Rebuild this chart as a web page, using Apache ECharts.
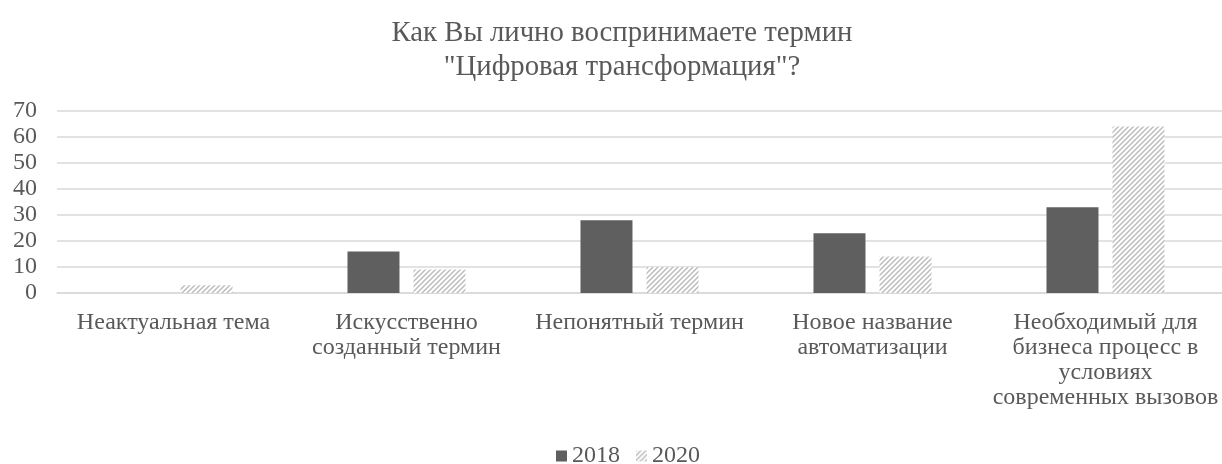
<!DOCTYPE html>
<html>
<head>
<meta charset="utf-8">
<script src="https://cdn.jsdelivr.net/npm/echarts@6/dist/echarts.min.js"></script>
<style>
  html, body { margin: 0; padding: 0; background: #fff; }
  #chart { width: 1222px; height: 464px; }
</style>
</head>
<body>
<div id="chart"></div>
<script>
// данные опроса
const categories = [
  'Неактуальная тема',
  'Искусственно созданный термин',
  'Непонятный термин',
  'Новое название автоматизации',
  'Необходимый для бизнеса процесс в условиях современных вызовов'
]
const years = ['2018', '2020']
const values2018 = [0, 16, 28, 23, 33]
const values2020 = [3, 9, 10, 14, 64]
const yTicks = [0, 10, 20, 30, 40, 50, 60, 70]

const textColor = '#595959'
const font = '"Liberation Serif", "Times New Roman", serif'
const labelSize = 24

// перенос подписей по словам
const measureCtx = document.createElement('canvas').getContext('2d')
const wrapLabel = (text, maxWidth) => {
  measureCtx.font = labelSize + 'px ' + font
  const words = text.split(' ')
  const lines = []
  let line = ''
  words.forEach(w => {
    const test = line ? line + ' ' + w : w
    if (line && measureCtx.measureText(test).width > maxWidth) {
      lines.push(line)
      line = w
    } else {
      line = test
    }
  })
  if (line) lines.push(line)
  return lines.join('\n')
}

// штриховка для 2020
const makeHatch = () => {
  const c = document.createElement('canvas')
  c.width = 5
  c.height = 5
  const ctx = c.getContext('2d')
  ctx.fillStyle = '#ffffff'
  ctx.fillRect(0, 0, 5, 5)
  ctx.strokeStyle = '#bdbdbd'
  ctx.lineWidth = 1.5
  ctx.beginPath()
  ctx.moveTo(-1, 6); ctx.lineTo(6, -1)
  ctx.moveTo(-6, 6); ctx.lineTo(1, -1)
  ctx.moveTo(4, 6); ctx.lineTo(11, -1)
  ctx.stroke()
  return c
}
const hatch = { image: makeHatch(), repeat: 'repeat' }

const chart = echarts.init(document.getElementById('chart'))

const option = {
  animation: false,
  title: {
    text: 'Как Вы лично воспринимаете термин\n"Цифровая трансформация"?',
    left: 617,
    top: 11,
    textAlign: 'center',
    textStyle: {
      fontFamily: font,
      fontSize: 28.75,
      fontWeight: 'normal',
      color: textColor,
      lineHeight: 34
    }
  },
  legend: {
    top: 438,
    left: 551,
    itemWidth: 11,
    itemHeight: 11,
    itemGap: 16,
    icon: 'rect',
    textStyle: { fontFamily: font, fontSize: labelSize, color: textColor, lineHeight: 26 },
    data: years
  },
  grid: {
    left: 57,
    right: 0,
    top: 111,
    bottom: 171,
    containLabel: false
  },
  xAxis: {
    type: 'category',
    data: categories,
    axisLine: { show: true, lineStyle: { color: '#d9d9d9', width: 1.5 } },
    axisTick: { show: false },
    axisLabel: {
      interval: 0,
      margin: 17,
      fontFamily: font,
      fontSize: labelSize,
      lineHeight: 25,
      color: textColor,
      formatter: value => wrapLabel(value, 228)
    }
  },
  yAxis: {
    type: 'value',
    min: yTicks[0],
    max: yTicks[yTicks.length - 1],
    interval: 10,
    axisLine: { show: false },
    axisTick: { show: false },
    splitLine: { lineStyle: { color: '#d9d9d9', width: 1.5 } },
    axisLabel: {
      margin: 20,
      fontFamily: font,
      fontSize: labelSize,
      color: textColor
    }
  },
  series: [
    {
      name: years[0],
      type: 'bar',
      data: values2018,
      barWidth: 52,
      barGap: '27%',
      itemStyle: { color: '#5f5f5f' }
    },
    {
      name: years[1],
      type: 'bar',
      data: values2020,
      barWidth: 52,
      itemStyle: { color: hatch }
    }
  ]
}

chart.setOption(option)
</script>
</body>
</html>
